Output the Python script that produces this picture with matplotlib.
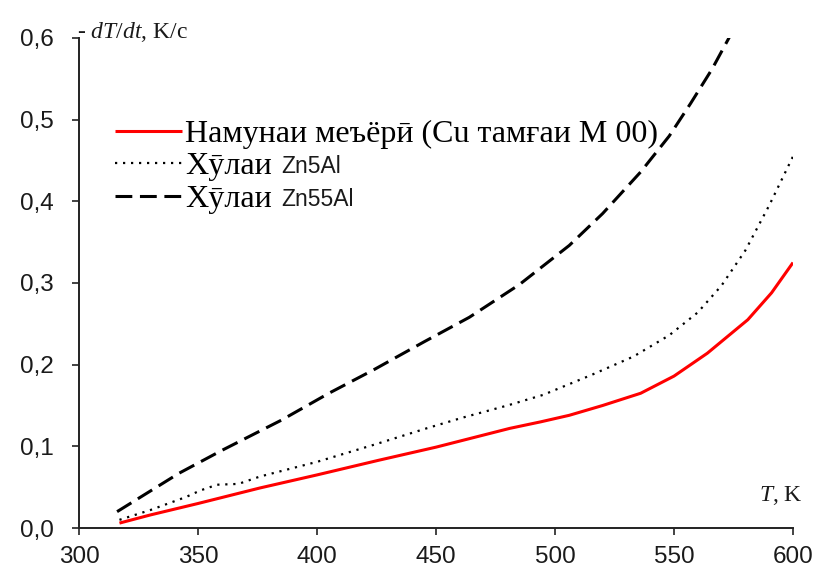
import matplotlib
matplotlib.use("Agg")
import matplotlib.pyplot as plt
from matplotlib.ticker import FuncFormatter

# Значения
T_ref = [317, 330, 350, 376, 400, 426, 450, 481, 494, 506, 520, 536, 550, 564, 581, 591, 600]
v_ref = [0.006, 0.016, 0.030, 0.049, 0.065, 0.083, 0.099, 0.122, 0.130, 0.138,
         0.150, 0.165, 0.186, 0.214, 0.255, 0.288, 0.325]

T_zn5 = [317, 330, 345, 351, 358, 367, 376, 400, 424, 446, 461, 480, 495, 515,
         533, 548, 560, 570, 580, 590, 600]
v_zn5 = [0.010, 0.022, 0.038, 0.046, 0.053, 0.054, 0.063, 0.081, 0.102, 0.122,
         0.135, 0.150, 0.163, 0.187, 0.210, 0.236, 0.264, 0.297, 0.340, 0.395, 0.455]

T_zn55 = [316, 342, 360, 385, 405, 424, 445, 464, 485, 506, 520, 536, 548, 557, 566, 574]
v_zn55 = [0.020, 0.067, 0.095, 0.132, 0.165, 0.194, 0.228, 0.258, 0.298, 0.346,
          0.385, 0.436, 0.480, 0.520, 0.562, 0.605]

lab_ref = "Намунаи меъёрӣ (Cu тамғаи М 00)"
lab_zn5 = ("Хӯлаи", "Zn5Al")
lab_zn55 = ("Хӯлаи", "Zn55Al")

x_ticks = [300, 350, 400, 450, 500, 550, 600]
y_ticks = [0.0, 0.1, 0.2, 0.3, 0.4, 0.5, 0.6]

plt.rcParams["mathtext.fontset"] = "custom"
plt.rcParams["mathtext.rm"] = "Liberation Serif"
plt.rcParams["mathtext.it"] = "Liberation Serif:italic"

SERIF = ["Liberation Serif", "DejaVu Serif"]
SANS = ["Liberation Sans", "DejaVu Sans"]
AX_C = "#222222"
TXT_C = "#1a1a1a"

fig = plt.figure(figsize=(8.19, 5.77), dpi=100)
ax = fig.add_axes([79 / 819, 49 / 577, 714 / 819, 490 / 577])

ax.plot(T_ref, v_ref, color="#ff0000", lw=2.2, label=lab_ref, solid_capstyle="butt")
ax.plot(T_zn5, v_zn5, color="black", lw=1.6, dashes=(1, 2.6), label=lab_zn5[0])
ax.plot(T_zn55, v_zn55, color="black", lw=2.2, dashes=(5.5, 2.5), label=lab_zn55[0])

ax.set_xlim(300, 600)
ax.set_ylim(0, 0.6)
ax.set_xticks(x_ticks)
ax.set_yticks(y_ticks)
ax.yaxis.set_major_formatter(FuncFormatter(lambda v, p: f"{v:.1f}".replace(".", ",")))

for s in ["top", "right"]:
    ax.spines[s].set_visible(False)
for s in ["left", "bottom"]:
    ax.spines[s].set_linewidth(1.4)
    ax.spines[s].set_color(AX_C)
ax.tick_params(direction="out", length=5, width=1.2, color=AX_C, labelcolor=TXT_C,
               labelsize=17.5)
ax.tick_params(axis="x", pad=8)
ax.tick_params(axis="y", pad=13)
for lbl in ax.get_xticklabels() + ax.get_yticklabels():
    lbl.set_fontfamily(SANS)

# подписи осей
ax.text(-0.003, 1.012, r"- $dT/dt$, K/c", transform=ax.transAxes, family=SERIF,
        fontsize=17, ha="left", va="center", color=TXT_C)
ax.text(1.014, 0.067, r"$T$, K", transform=ax.transAxes, family=SERIF,
        fontsize=17, ha="right", va="center", color=TXT_C)

leg = ax.legend(loc="upper left", bbox_to_anchor=(0.05, 0.834), frameon=False,
                borderpad=0, borderaxespad=0, handlelength=2.1, handletextpad=0.1,
                labelspacing=0.1, prop={"family": SERIF, "size": 23})
for t, extra in zip(leg.get_texts()[1:], [lab_zn5[1], lab_zn55[1]]):
    ax.annotate(extra, xy=(1, 0), xycoords=t, xytext=(7, 5.6),
                textcoords="offset points", ha="left", va="baseline",
                family=SANS, fontsize=16.5, color=TXT_C, zorder=6)

fig.savefig("out.png", dpi=100)
